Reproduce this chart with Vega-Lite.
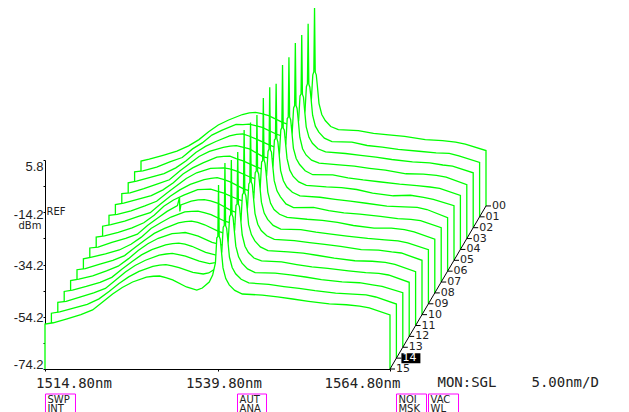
{"$schema":"https://vega.github.io/schema/vega-lite/v6.json","width":345,"height":209,"autosize":{"type":"none"},"padding":{"left":45,"top":160,"right":239,"bottom":43},"background":"white","config":{"view":{"stroke":null}},
"datasets":{
"traces":[
{"t":0,"x":1514.8,"y":-74.2},{"t":0,"x":1514.8,"y":-57},{"t":0,"x":1516,"y":-56.3},{"t":0,"x":1518,"y":-54.8},{"t":0,"x":1520,"y":-53.2},{"t":0,"x":1521.7,"y":-51.2},{"t":0,"x":1523.2,"y":-48.8},{"t":0,"x":1524.6,"y":-45.8},{"t":0,"x":1526,"y":-43.2},{"t":0,"x":1527.5,"y":-41.3},{"t":0,"x":1529.5,"y":-39.2},{"t":0,"x":1530.5,"y":-38.6},{"t":0,"x":1531.4,"y":-38.4},{"t":0,"x":1532.3,"y":-38.9},{"t":0,"x":1533.3,"y":-39.6},{"t":0,"x":1535.3,"y":-42.2},{"t":0,"x":1536.8,"y":-43.6},{"t":0,"x":1537.6,"y":-43},{"t":0,"x":1538.6,"y":-40.6},{"t":0,"x":1539.1,"y":-38},{"t":0,"x":1539.5,"y":-33},{"t":0,"x":1539.7,"y":-24},{"t":0,"x":1539.85,"y":-22.8},{"t":0,"x":1539.95,"y":1.6},{"t":0,"x":1540.05,"y":-23},{"t":0,"x":1540.2,"y":-24},{"t":0,"x":1540.35,"y":-28},{"t":0,"x":1540.6,"y":-35},{"t":0,"x":1541,"y":-39.2},{"t":0,"x":1541.5,"y":-41.5},{"t":0,"x":1542.3,"y":-43.8},{"t":0,"x":1543.4,"y":-45},{"t":0,"x":1546.3,"y":-45.4},{"t":0,"x":1548.5,"y":-46.4},{"t":0,"x":1550.7,"y":-47},{"t":0,"x":1553,"y":-47.6},{"t":0,"x":1556,"y":-48.8},{"t":0,"x":1558.5,"y":-49.2},{"t":0,"x":1560.4,"y":-49.8},{"t":0,"x":1561.8,"y":-50.5},{"t":0,"x":1564.8,"y":-53},{"t":0,"x":1564.8,"y":-74.2},
{"t":1,"x":1514.8,"y":-74.2},{"t":1,"x":1514.8,"y":-57},{"t":1,"x":1516,"y":-56.6},{"t":1,"x":1518,"y":-55.2},{"t":1,"x":1520,"y":-53.1},{"t":1,"x":1521.7,"y":-51.5},{"t":1,"x":1523.2,"y":-48.2},{"t":1,"x":1524.6,"y":-45.9},{"t":1,"x":1526,"y":-42.9},{"t":1,"x":1527.5,"y":-41},{"t":1,"x":1529.5,"y":-38.8},{"t":1,"x":1530.5,"y":-38.9},{"t":1,"x":1531.4,"y":-38.7},{"t":1,"x":1532.3,"y":-39.3},{"t":1,"x":1533.3,"y":-40},{"t":1,"x":1535.3,"y":-42.5},{"t":1,"x":1536.8,"y":-43.9},{"t":1,"x":1537.6,"y":-43.1},{"t":1,"x":1538.6,"y":-40.8},{"t":1,"x":1539.1,"y":-38.3},{"t":1,"x":1539.5,"y":-33.5},{"t":1,"x":1539.7,"y":-24.4},{"t":1,"x":1539.85,"y":-23.2},{"t":1,"x":1539.95,"y":-0.3},{"t":1,"x":1540.05,"y":-23.4},{"t":1,"x":1540.2,"y":-24.6},{"t":1,"x":1540.35,"y":-28.4},{"t":1,"x":1540.6,"y":-35.3},{"t":1,"x":1541,"y":-39.5},{"t":1,"x":1541.5,"y":-41.8},{"t":1,"x":1542.3,"y":-44.1},{"t":1,"x":1543.4,"y":-45.4},{"t":1,"x":1546.3,"y":-45.6},{"t":1,"x":1548.5,"y":-46.9},{"t":1,"x":1550.7,"y":-47.5},{"t":1,"x":1553,"y":-48.4},{"t":1,"x":1556,"y":-49.1},{"t":1,"x":1558.5,"y":-49.7},{"t":1,"x":1560.4,"y":-49.9},{"t":1,"x":1561.8,"y":-50.9},{"t":1,"x":1564.8,"y":-53.4},{"t":1,"x":1564.8,"y":-74.2},
{"t":2,"x":1514.8,"y":-74.2},{"t":2,"x":1514.8,"y":-57},{"t":2,"x":1516,"y":-56.4},{"t":2,"x":1518,"y":-54.9},{"t":2,"x":1520,"y":-53.5},{"t":2,"x":1521.7,"y":-51.3},{"t":2,"x":1523.2,"y":-48.6},{"t":2,"x":1524.6,"y":-45.4},{"t":2,"x":1526,"y":-43.1},{"t":2,"x":1527.5,"y":-41.2},{"t":2,"x":1529.5,"y":-39.1},{"t":2,"x":1530.5,"y":-38.5},{"t":2,"x":1531.4,"y":-38.3},{"t":2,"x":1532.3,"y":-39.1},{"t":2,"x":1533.3,"y":-40.2},{"t":2,"x":1535.3,"y":-42.6},{"t":2,"x":1536.8,"y":-44.1},{"t":2,"x":1537.6,"y":-43.3},{"t":2,"x":1538.6,"y":-41},{"t":2,"x":1539.1,"y":-38.1},{"t":2,"x":1539.5,"y":-33.2},{"t":2,"x":1539.7,"y":-23.8},{"t":2,"x":1539.85,"y":-23.1},{"t":2,"x":1539.95,"y":-0.4},{"t":2,"x":1540.05,"y":-23.2},{"t":2,"x":1540.2,"y":-24.2},{"t":2,"x":1540.35,"y":-28.7},{"t":2,"x":1540.6,"y":-35.6},{"t":2,"x":1541,"y":-39.6},{"t":2,"x":1541.5,"y":-41.9},{"t":2,"x":1542.3,"y":-44},{"t":2,"x":1543.4,"y":-45.2},{"t":2,"x":1546.3,"y":-45.8},{"t":2,"x":1548.5,"y":-46.5},{"t":2,"x":1550.7,"y":-47.2},{"t":2,"x":1553,"y":-48.1},{"t":2,"x":1556,"y":-49},{"t":2,"x":1558.5,"y":-49.4},{"t":2,"x":1560.4,"y":-50.2},{"t":2,"x":1561.8,"y":-50.6},{"t":2,"x":1564.8,"y":-53.2},{"t":2,"x":1564.8,"y":-74.2},
{"t":3,"x":1514.8,"y":-74.2},{"t":3,"x":1514.8,"y":-57},{"t":3,"x":1516,"y":-56.7},{"t":3,"x":1518,"y":-55.1},{"t":3,"x":1520,"y":-53.3},{"t":3,"x":1521.7,"y":-51.7},{"t":3,"x":1523.2,"y":-48.3},{"t":3,"x":1524.6,"y":-45.6},{"t":3,"x":1526,"y":-42.8},{"t":3,"x":1527.5,"y":-40.8},{"t":3,"x":1529.5,"y":-39.3},{"t":3,"x":1530.5,"y":-38.8},{"t":3,"x":1531.4,"y":-38.6},{"t":3,"x":1532.3,"y":-39.2},{"t":3,"x":1533.3,"y":-39.9},{"t":3,"x":1535.3,"y":-42.9},{"t":3,"x":1536.8,"y":-43.8},{"t":3,"x":1537.6,"y":-43},{"t":3,"x":1538.6,"y":-40.7},{"t":3,"x":1539.1,"y":-38.4},{"t":3,"x":1539.5,"y":-33.4},{"t":3,"x":1539.7,"y":-24.2},{"t":3,"x":1539.85,"y":-23.3},{"t":3,"x":1539.95,"y":0.7},{"t":3,"x":1540.05,"y":-23.3},{"t":3,"x":1540.2,"y":-24.4},{"t":3,"x":1540.35,"y":-28.2},{"t":3,"x":1540.6,"y":-35.4},{"t":3,"x":1541,"y":-39.8},{"t":3,"x":1541.5,"y":-42.2},{"t":3,"x":1542.3,"y":-44.2},{"t":3,"x":1543.4,"y":-45.3},{"t":3,"x":1546.3,"y":-46},{"t":3,"x":1548.5,"y":-46.5},{"t":3,"x":1550.7,"y":-47.3},{"t":3,"x":1553,"y":-48},{"t":3,"x":1556,"y":-49.4},{"t":3,"x":1558.5,"y":-49.5},{"t":3,"x":1560.4,"y":-50},{"t":3,"x":1561.8,"y":-50.7},{"t":3,"x":1564.8,"y":-53.6},{"t":3,"x":1564.8,"y":-74.2},
{"t":4,"x":1514.8,"y":-74.2},{"t":4,"x":1514.8,"y":-57},{"t":4,"x":1516,"y":-56.5},{"t":4,"x":1518,"y":-55},{"t":4,"x":1520,"y":-53.6},{"t":4,"x":1521.7,"y":-51.4},{"t":4,"x":1523.2,"y":-48.7},{"t":4,"x":1524.6,"y":-45.3},{"t":4,"x":1526,"y":-43},{"t":4,"x":1527.5,"y":-41.1},{"t":4,"x":1529.5,"y":-38.9},{"t":4,"x":1530.5,"y":-38.6},{"t":4,"x":1531.4,"y":-38.5},{"t":4,"x":1532.3,"y":-39.4},{"t":4,"x":1533.3,"y":-40.3},{"t":4,"x":1535.3,"y":-42.7},{"t":4,"x":1536.8,"y":-44.2},{"t":4,"x":1537.6,"y":-43.2},{"t":4,"x":1538.6,"y":-40.9},{"t":4,"x":1539.1,"y":-38.2},{"t":4,"x":1539.5,"y":-33.7},{"t":4,"x":1539.7,"y":-24.1},{"t":4,"x":1539.85,"y":-23.6},{"t":4,"x":1539.95,"y":-0.6},{"t":4,"x":1540.05,"y":-23.5},{"t":4,"x":1540.2,"y":-24.5},{"t":4,"x":1540.35,"y":-28.6},{"t":4,"x":1540.6,"y":-35.5},{"t":4,"x":1541,"y":-39.4},{"t":4,"x":1541.5,"y":-41.7},{"t":4,"x":1542.3,"y":-44.1},{"t":4,"x":1543.4,"y":-45.6},{"t":4,"x":1546.3,"y":-45.7},{"t":4,"x":1548.5,"y":-46.8},{"t":4,"x":1550.7,"y":-47.6},{"t":4,"x":1553,"y":-48.3},{"t":4,"x":1556,"y":-49.2},{"t":4,"x":1558.5,"y":-49.8},{"t":4,"x":1560.4,"y":-50.3},{"t":4,"x":1561.8,"y":-50.8},{"t":4,"x":1564.8,"y":-53.5},{"t":4,"x":1564.8,"y":-74.2},
{"t":5,"x":1514.8,"y":-74.2},{"t":5,"x":1514.8,"y":-57},{"t":5,"x":1516,"y":-56.6},{"t":5,"x":1518,"y":-55.3},{"t":5,"x":1520,"y":-53.4},{"t":5,"x":1521.7,"y":-51.6},{"t":5,"x":1523.2,"y":-48.4},{"t":5,"x":1524.6,"y":-45.7},{"t":5,"x":1526,"y":-42.9},{"t":5,"x":1527.5,"y":-40.7},{"t":5,"x":1529.5,"y":-39},{"t":5,"x":1530.5,"y":-38.9},{"t":5,"x":1531.4,"y":-38.8},{"t":5,"x":1532.3,"y":-39.2},{"t":5,"x":1533.3,"y":-40.1},{"t":5,"x":1535.3,"y":-42.4},{"t":5,"x":1536.8,"y":-43.7},{"t":5,"x":1537.6,"y":-43.1},{"t":5,"x":1538.6,"y":-41},{"t":5,"x":1539.1,"y":-38},{"t":5,"x":1539.5,"y":-33.3},{"t":5,"x":1539.7,"y":-24.3},{"t":5,"x":1539.85,"y":-23.4},{"t":5,"x":1539.95,"y":0.6},{"t":5,"x":1540.05,"y":-23.6},{"t":5,"x":1540.2,"y":-24.3},{"t":5,"x":1540.35,"y":-28.3},{"t":5,"x":1540.6,"y":-35.2},{"t":5,"x":1541,"y":-39.7},{"t":5,"x":1541.5,"y":-42.1},{"t":5,"x":1542.3,"y":-44.2},{"t":5,"x":1543.4,"y":-45.5},{"t":5,"x":1546.3,"y":-46.1},{"t":5,"x":1548.5,"y":-46.4},{"t":5,"x":1550.7,"y":-47.1},{"t":5,"x":1553,"y":-48.5},{"t":5,"x":1556,"y":-49.5},{"t":5,"x":1558.5,"y":-49.3},{"t":5,"x":1560.4,"y":-50.1},{"t":5,"x":1561.8,"y":-50.9},{"t":5,"x":1564.8,"y":-53.3},{"t":5,"x":1564.8,"y":-74.2},
{"t":6,"x":1514.8,"y":-74.2},{"t":6,"x":1514.8,"y":-57},{"t":6,"x":1516,"y":-56.4},{"t":6,"x":1518,"y":-55},{"t":6,"x":1520,"y":-53.2},{"t":6,"x":1521.7,"y":-51.8},{"t":6,"x":1523.2,"y":-48.5},{"t":6,"x":1524.6,"y":-45.5},{"t":6,"x":1526,"y":-43.1},{"t":6,"x":1527.5,"y":-41},{"t":6,"x":1529.5,"y":-39.2},{"t":6,"x":1530.5,"y":-38.7},{"t":6,"x":1531.4,"y":-38.4},{"t":6,"x":1532.3,"y":-39.1},{"t":6,"x":1533.3,"y":-40},{"t":6,"x":1535.3,"y":-42.8},{"t":6,"x":1536.8,"y":-44},{"t":6,"x":1537.6,"y":-43.4},{"t":6,"x":1538.6,"y":-40.8},{"t":6,"x":1539.1,"y":-38.3},{"t":6,"x":1539.5,"y":-33.6},{"t":6,"x":1539.7,"y":-24},{"t":6,"x":1539.85,"y":-23.5},{"t":6,"x":1539.95,"y":-2.5},{"t":6,"x":1540.05,"y":-23.4},{"t":6,"x":1540.2,"y":-24.7},{"t":6,"x":1540.35,"y":-28.5},{"t":6,"x":1540.6,"y":-35.7},{"t":6,"x":1541,"y":-39.6},{"t":6,"x":1541.5,"y":-42},{"t":6,"x":1542.3,"y":-44},{"t":6,"x":1543.4,"y":-45.4},{"t":6,"x":1546.3,"y":-45.9},{"t":6,"x":1548.5,"y":-46.7},{"t":6,"x":1550.7,"y":-47.4},{"t":6,"x":1553,"y":-48.2},{"t":6,"x":1556,"y":-49.3},{"t":6,"x":1558.5,"y":-49.6},{"t":6,"x":1560.4,"y":-49.8},{"t":6,"x":1561.8,"y":-50.6},{"t":6,"x":1564.8,"y":-53.7},{"t":6,"x":1564.8,"y":-74.2},
{"t":7,"x":1514.8,"y":-74.2},{"t":7,"x":1514.8,"y":-57},{"t":7,"x":1516,"y":-56.5},{"t":7,"x":1518,"y":-55.2},{"t":7,"x":1520,"y":-53.5},{"t":7,"x":1521.7,"y":-51.5},{"t":7,"x":1523.2,"y":-48.6},{"t":7,"x":1524.6,"y":-45.2},{"t":7,"x":1526,"y":-42.8},{"t":7,"x":1527.5,"y":-40.9},{"t":7,"x":1529.5,"y":-38.8},{"t":7,"x":1530.5,"y":-38.7},{"t":7,"x":1531.4,"y":-38.6},{"t":7,"x":1532.3,"y":-39.4},{"t":7,"x":1533.3,"y":-40.2},{"t":7,"x":1535.3,"y":-42.5},{"t":7,"x":1536.8,"y":-43.9},{"t":7,"x":1537.6,"y":-43},{"t":7,"x":1538.6,"y":-40.9},{"t":7,"x":1539.1,"y":-38.1},{"t":7,"x":1539.5,"y":-33.4},{"t":7,"x":1539.7,"y":-24.2},{"t":7,"x":1539.85,"y":-23.3},{"t":7,"x":1539.95,"y":0.4},{"t":7,"x":1540.05,"y":-23.7},{"t":7,"x":1540.2,"y":-24.4},{"t":7,"x":1540.35,"y":-28.8},{"t":7,"x":1540.6,"y":-35.4},{"t":7,"x":1541,"y":-39.3},{"t":7,"x":1541.5,"y":-41.6},{"t":7,"x":1542.3,"y":-44.3},{"t":7,"x":1543.4,"y":-45.7},{"t":7,"x":1546.3,"y":-45.6},{"t":7,"x":1548.5,"y":-46.9},{"t":7,"x":1550.7,"y":-47.7},{"t":7,"x":1553,"y":-48.2},{"t":7,"x":1556,"y":-49.1},{"t":7,"x":1558.5,"y":-49.9},{"t":7,"x":1560.4,"y":-50.2},{"t":7,"x":1561.8,"y":-50.7},{"t":7,"x":1564.8,"y":-53.4},{"t":7,"x":1564.8,"y":-74.2},
{"t":8,"x":1514.8,"y":-74.2},{"t":8,"x":1514.8,"y":-57},{"t":8,"x":1516,"y":-56.7},{"t":8,"x":1518,"y":-54.9},{"t":8,"x":1520,"y":-53.3},{"t":8,"x":1521.7,"y":-51.7},{"t":8,"x":1523.2,"y":-48.3},{"t":8,"x":1524.6,"y":-45.6},{"t":8,"x":1526,"y":-43},{"t":8,"x":1527.5,"y":-40.8},{"t":8,"x":1527.8,"y":-37.6},{"t":8,"x":1527.85,"y":-43},{"t":8,"x":1528,"y":-40.5},{"t":8,"x":1529.5,"y":-39.1},{"t":8,"x":1530.5,"y":-38.6},{"t":8,"x":1531.4,"y":-38.5},{"t":8,"x":1532.3,"y":-39},{"t":8,"x":1533.3,"y":-39.8},{"t":8,"x":1535.3,"y":-42.7},{"t":8,"x":1536.8,"y":-44.1},{"t":8,"x":1537.6,"y":-43.2},{"t":8,"x":1538.6,"y":-40.7},{"t":8,"x":1539.1,"y":-38.2},{"t":8,"x":1539.5,"y":-33.8},{"t":8,"x":1539.7,"y":-24.1},{"t":8,"x":1539.85,"y":-23.6},{"t":8,"x":1539.95,"y":0.4},{"t":8,"x":1540.05,"y":-23.3},{"t":8,"x":1540.2,"y":-24.6},{"t":8,"x":1540.35,"y":-28.4},{"t":8,"x":1540.6,"y":-35.6},{"t":8,"x":1541,"y":-39.9},{"t":8,"x":1541.5,"y":-42.3},{"t":8,"x":1542.3,"y":-44.1},{"t":8,"x":1543.4,"y":-45.3},{"t":8,"x":1546.3,"y":-46},{"t":8,"x":1548.5,"y":-46.4},{"t":8,"x":1550.7,"y":-47.2},{"t":8,"x":1553,"y":-48.4},{"t":8,"x":1556,"y":-49.4},{"t":8,"x":1558.5,"y":-49.4},{"t":8,"x":1560.4,"y":-50},{"t":8,"x":1561.8,"y":-50.8},{"t":8,"x":1564.8,"y":-53.6},{"t":8,"x":1564.8,"y":-74.2},
{"t":9,"x":1514.8,"y":-74.2},{"t":9,"x":1514.8,"y":-57},{"t":9,"x":1516,"y":-56.3},{"t":9,"x":1518,"y":-55.1},{"t":9,"x":1520,"y":-53.6},{"t":9,"x":1521.7,"y":-51.4},{"t":9,"x":1523.2,"y":-48.7},{"t":9,"x":1524.6,"y":-45.4},{"t":9,"x":1526,"y":-43.2},{"t":9,"x":1527.5,"y":-41},{"t":9,"x":1529.5,"y":-39},{"t":9,"x":1530.5,"y":-38.8},{"t":9,"x":1531.4,"y":-38.7},{"t":9,"x":1532.3,"y":-39.3},{"t":9,"x":1533.3,"y":-40.1},{"t":9,"x":1535.3,"y":-42.6},{"t":9,"x":1536.8,"y":-43.8},{"t":9,"x":1537.6,"y":-43.1},{"t":9,"x":1538.6,"y":-40.8},{"t":9,"x":1539.1,"y":-38},{"t":9,"x":1539.5,"y":-33.5},{"t":9,"x":1539.7,"y":-24},{"t":9,"x":1539.85,"y":-23.4},{"t":9,"x":1539.95,"y":-1.9},{"t":9,"x":1540.05,"y":-23.5},{"t":9,"x":1540.2,"y":-24.5},{"t":9,"x":1540.35,"y":-28.6},{"t":9,"x":1540.6,"y":-35.3},{"t":9,"x":1541,"y":-39.5},{"t":9,"x":1541.5,"y":-41.9},{"t":9,"x":1542.3,"y":-44.2},{"t":9,"x":1543.4,"y":-45.6},{"t":9,"x":1546.3,"y":-45.8},{"t":9,"x":1548.5,"y":-46.8},{"t":9,"x":1550.7,"y":-47.5},{"t":9,"x":1553,"y":-48.3},{"t":9,"x":1556,"y":-49.2},{"t":9,"x":1558.5,"y":-49.7},{"t":9,"x":1560.4,"y":-50.1},{"t":9,"x":1561.8,"y":-50.9},{"t":9,"x":1564.8,"y":-53.5},{"t":9,"x":1564.8,"y":-74.2},
{"t":10,"x":1514.8,"y":-74.2},{"t":10,"x":1514.8,"y":-57},{"t":10,"x":1516,"y":-56.6},{"t":10,"x":1518,"y":-55},{"t":10,"x":1520,"y":-53.4},{"t":10,"x":1521.7,"y":-51.6},{"t":10,"x":1523.2,"y":-48.5},{"t":10,"x":1524.6,"y":-45.7},{"t":10,"x":1526,"y":-43.1},{"t":10,"x":1527.5,"y":-41.2},{"t":10,"x":1529.5,"y":-39.1},{"t":10,"x":1530.5,"y":-38.6},{"t":10,"x":1531.4,"y":-38.4},{"t":10,"x":1532.3,"y":-38.9},{"t":10,"x":1533.3,"y":-39.8},{"t":10,"x":1535.3,"y":-42.3},{"t":10,"x":1536.8,"y":-43.6},{"t":10,"x":1537.6,"y":-42.9},{"t":10,"x":1538.6,"y":-40.7},{"t":10,"x":1539.1,"y":-38.2},{"t":10,"x":1539.5,"y":-33.4},{"t":10,"x":1539.7,"y":-24.2},{"t":10,"x":1539.85,"y":-23.5},{"t":10,"x":1539.95,"y":-0.7},{"t":10,"x":1540.05,"y":-23.4},{"t":10,"x":1540.2,"y":-24.4},{"t":10,"x":1540.35,"y":-28.7},{"t":10,"x":1540.6,"y":-35.5},{"t":10,"x":1541,"y":-39.6},{"t":10,"x":1541.5,"y":-42},{"t":10,"x":1542.3,"y":-44},{"t":10,"x":1543.4,"y":-45.4},{"t":10,"x":1546.3,"y":-45.9},{"t":10,"x":1548.5,"y":-46.6},{"t":10,"x":1550.7,"y":-47.3},{"t":10,"x":1553,"y":-48.1},{"t":10,"x":1556,"y":-49.3},{"t":10,"x":1558.5,"y":-49.5},{"t":10,"x":1560.4,"y":-50.2},{"t":10,"x":1561.8,"y":-50.6},{"t":10,"x":1564.8,"y":-53.4},{"t":10,"x":1564.8,"y":-74.2},
{"t":11,"x":1514.8,"y":-74.2},{"t":11,"x":1514.8,"y":-57},{"t":11,"x":1516,"y":-56.4},{"t":11,"x":1518,"y":-55.2},{"t":11,"x":1520,"y":-53.3},{"t":11,"x":1521.7,"y":-51.5},{"t":11,"x":1523.2,"y":-48.6},{"t":11,"x":1524.6,"y":-45.5},{"t":11,"x":1526,"y":-42.9},{"t":11,"x":1527.5,"y":-40.8},{"t":11,"x":1529.5,"y":-39},{"t":11,"x":1530.5,"y":-38.8},{"t":11,"x":1531.4,"y":-38.6},{"t":11,"x":1532.3,"y":-39.2},{"t":11,"x":1533.3,"y":-40},{"t":11,"x":1535.3,"y":-42.4},{"t":11,"x":1536.8,"y":-43.4},{"t":11,"x":1537.6,"y":-42.6},{"t":11,"x":1538.6,"y":-40.6},{"t":11,"x":1539.1,"y":-38.1},{"t":11,"x":1539.5,"y":-33.6},{"t":11,"x":1539.7,"y":-24.1},{"t":11,"x":1539.85,"y":-23.5},{"t":11,"x":1539.95,"y":0.6},{"t":11,"x":1540.05,"y":-23.5},{"t":11,"x":1540.2,"y":-24.5},{"t":11,"x":1540.35,"y":-28.5},{"t":11,"x":1540.6,"y":-35.6},{"t":11,"x":1541,"y":-39.4},{"t":11,"x":1541.5,"y":-41.8},{"t":11,"x":1542.3,"y":-44.1},{"t":11,"x":1543.4,"y":-45.5},{"t":11,"x":1546.3,"y":-46},{"t":11,"x":1548.5,"y":-46.5},{"t":11,"x":1550.7,"y":-47.4},{"t":11,"x":1553,"y":-48.4},{"t":11,"x":1556,"y":-49.4},{"t":11,"x":1558.5,"y":-49.6},{"t":11,"x":1560.4,"y":-50},{"t":11,"x":1561.8,"y":-50.8},{"t":11,"x":1564.8,"y":-53.6},{"t":11,"x":1564.8,"y":-74.2},
{"t":12,"x":1514.8,"y":-74.2},{"t":12,"x":1514.8,"y":-57},{"t":12,"x":1516,"y":-56.5},{"t":12,"x":1518,"y":-55.1},{"t":12,"x":1520,"y":-53.5},{"t":12,"x":1521.7,"y":-51.6},{"t":12,"x":1523.2,"y":-48.4},{"t":12,"x":1524.6,"y":-45.6},{"t":12,"x":1526,"y":-43},{"t":12,"x":1527.5,"y":-41},{"t":12,"x":1529.5,"y":-39.2},{"t":12,"x":1530.5,"y":-38.7},{"t":12,"x":1531.4,"y":-38.5},{"t":12,"x":1532.3,"y":-38.9},{"t":12,"x":1533.3,"y":-39.7},{"t":12,"x":1535.3,"y":-42},{"t":12,"x":1536.8,"y":-43.1},{"t":12,"x":1537.6,"y":-42.4},{"t":12,"x":1538.6,"y":-40.4},{"t":12,"x":1539.1,"y":-38},{"t":12,"x":1539.5,"y":-33.5},{"t":12,"x":1539.7,"y":-24},{"t":12,"x":1539.85,"y":-23.6},{"t":12,"x":1539.95,"y":-3.6},{"t":12,"x":1540.05,"y":-23.6},{"t":12,"x":1540.2,"y":-24.6},{"t":12,"x":1540.35,"y":-28.6},{"t":12,"x":1540.6,"y":-35.4},{"t":12,"x":1541,"y":-39.7},{"t":12,"x":1541.5,"y":-42.1},{"t":12,"x":1542.3,"y":-44.2},{"t":12,"x":1543.4,"y":-45.3},{"t":12,"x":1546.3,"y":-45.7},{"t":12,"x":1548.5,"y":-46.7},{"t":12,"x":1550.7,"y":-47.6},{"t":12,"x":1553,"y":-48.2},{"t":12,"x":1556,"y":-49.1},{"t":12,"x":1558.5,"y":-49.8},{"t":12,"x":1560.4,"y":-50.1},{"t":12,"x":1561.8,"y":-50.7},{"t":12,"x":1564.8,"y":-53.5},{"t":12,"x":1564.8,"y":-74.2},
{"t":13,"x":1514.8,"y":-74.2},{"t":13,"x":1514.8,"y":-57},{"t":13,"x":1516,"y":-56.6},{"t":13,"x":1518,"y":-55},{"t":13,"x":1520,"y":-53.4},{"t":13,"x":1521.7,"y":-51.7},{"t":13,"x":1523.2,"y":-48.5},{"t":13,"x":1524.6,"y":-45.4},{"t":13,"x":1526,"y":-42.9},{"t":13,"x":1527.5,"y":-40.9},{"t":13,"x":1529.5,"y":-38.9},{"t":13,"x":1530.5,"y":-38.5},{"t":13,"x":1531.4,"y":-38.3},{"t":13,"x":1532.3,"y":-38.7},{"t":13,"x":1533.3,"y":-39.3},{"t":13,"x":1535.3,"y":-41.2},{"t":13,"x":1536.8,"y":-42.2},{"t":13,"x":1537.6,"y":-41.8},{"t":13,"x":1538.6,"y":-40},{"t":13,"x":1539.1,"y":-37.8},{"t":13,"x":1539.5,"y":-33.4},{"t":13,"x":1539.7,"y":-24.2},{"t":13,"x":1539.85,"y":-23.4},{"t":13,"x":1539.95,"y":-2.5},{"t":13,"x":1540.05,"y":-23.4},{"t":13,"x":1540.2,"y":-24.4},{"t":13,"x":1540.35,"y":-28.7},{"t":13,"x":1540.6,"y":-35.5},{"t":13,"x":1541,"y":-39.6},{"t":13,"x":1541.5,"y":-42},{"t":13,"x":1542.3,"y":-44.2},{"t":13,"x":1543.4,"y":-45.6},{"t":13,"x":1546.3,"y":-45.8},{"t":13,"x":1548.5,"y":-46.5},{"t":13,"x":1550.7,"y":-47.3},{"t":13,"x":1553,"y":-48.3},{"t":13,"x":1556,"y":-49.2},{"t":13,"x":1558.5,"y":-49.5},{"t":13,"x":1560.4,"y":-50.3},{"t":13,"x":1561.8,"y":-50.9},{"t":13,"x":1564.8,"y":-53.3},{"t":13,"x":1564.8,"y":-74.2},
{"t":14,"x":1514.8,"y":-74.2},{"t":14,"x":1514.8,"y":-57},{"t":14,"x":1516,"y":-56.5},{"t":14,"x":1518,"y":-55.1},{"t":14,"x":1520,"y":-53.6},{"t":14,"x":1521.7,"y":-51.5},{"t":14,"x":1523.2,"y":-48.6},{"t":14,"x":1524.6,"y":-45.6},{"t":14,"x":1526,"y":-43.1},{"t":14,"x":1527.5,"y":-41},{"t":14,"x":1529.5,"y":-39.1},{"t":14,"x":1530.5,"y":-38.6},{"t":14,"x":1531.4,"y":-38.4},{"t":14,"x":1532.3,"y":-38.9},{"t":14,"x":1533.3,"y":-39.6},{"t":14,"x":1535.3,"y":-41.4},{"t":14,"x":1536.8,"y":-42},{"t":14,"x":1537.6,"y":-41.6},{"t":14,"x":1538.6,"y":-39.9},{"t":14,"x":1539.1,"y":-37.6},{"t":14,"x":1539.5,"y":-33.3},{"t":14,"x":1539.7,"y":-24.1},{"t":14,"x":1539.85,"y":-23.5},{"t":14,"x":1539.95,"y":0.5},{"t":14,"x":1540.05,"y":-23.5},{"t":14,"x":1540.2,"y":-24.5},{"t":14,"x":1540.35,"y":-28.6},{"t":14,"x":1540.6,"y":-35.5},{"t":14,"x":1541,"y":-39.5},{"t":14,"x":1541.5,"y":-41.9},{"t":14,"x":1542.3,"y":-44},{"t":14,"x":1543.4,"y":-45.4},{"t":14,"x":1546.3,"y":-46},{"t":14,"x":1548.5,"y":-46.8},{"t":14,"x":1550.7,"y":-47.5},{"t":14,"x":1553,"y":-48.4},{"t":14,"x":1556,"y":-49.3},{"t":14,"x":1558.5,"y":-49.7},{"t":14,"x":1560.4,"y":-50},{"t":14,"x":1561.8,"y":-50.8},{"t":14,"x":1564.8,"y":-53.5},{"t":14,"x":1564.8,"y":-74.2},
{"t":15,"x":1514.8,"y":-74.2},{"t":15,"x":1514.8,"y":-57},{"t":15,"x":1516,"y":-56.5},{"t":15,"x":1518,"y":-55},{"t":15,"x":1520,"y":-53.4},{"t":15,"x":1521.7,"y":-51.6},{"t":15,"x":1523.2,"y":-48.5},{"t":15,"x":1524.6,"y":-45.5},{"t":15,"x":1526,"y":-43},{"t":15,"x":1527.5,"y":-40.9},{"t":15,"x":1529.5,"y":-39},{"t":15,"x":1530.5,"y":-38.7},{"t":15,"x":1531.4,"y":-38.6},{"t":15,"x":1532.3,"y":-39.2},{"t":15,"x":1533.3,"y":-40.1},{"t":15,"x":1535.3,"y":-42.8},{"t":15,"x":1536.8,"y":-44},{"t":15,"x":1537.6,"y":-43.2},{"t":15,"x":1538.6,"y":-40.9},{"t":15,"x":1539.1,"y":-38.2},{"t":15,"x":1539.5,"y":-33.6},{"t":15,"x":1539.7,"y":-24},{"t":15,"x":1539.85,"y":-23.5},{"t":15,"x":1539.95,"y":-3.8},{"t":15,"x":1540.05,"y":-23.5},{"t":15,"x":1540.2,"y":-24.5},{"t":15,"x":1540.35,"y":-28.6},{"t":15,"x":1540.6,"y":-35.5},{"t":15,"x":1541,"y":-39.6},{"t":15,"x":1541.5,"y":-42},{"t":15,"x":1542.3,"y":-44.1},{"t":15,"x":1543.4,"y":-45.5},{"t":15,"x":1546.3,"y":-45.9},{"t":15,"x":1548.5,"y":-46.6},{"t":15,"x":1550.7,"y":-47.4},{"t":15,"x":1553,"y":-48.3},{"t":15,"x":1556,"y":-49.3},{"t":15,"x":1558.5,"y":-49.6},{"t":15,"x":1560.4,"y":-50.1},{"t":15,"x":1561.8,"y":-50.8},{"t":15,"x":1564.8,"y":-53.5},{"t":15,"x":1564.8,"y":-74.2}
],
"depth":[{"t":0,"x":1564.8,"y":-74.2,"label":"00"},{"t":1,"x":1564.8,"y":-74.2,"label":"01"},{"t":2,"x":1564.8,"y":-74.2,"label":"02"},{"t":3,"x":1564.8,"y":-74.2,"label":"03"},{"t":4,"x":1564.8,"y":-74.2,"label":"04"},{"t":5,"x":1564.8,"y":-74.2,"label":"05"},{"t":6,"x":1564.8,"y":-74.2,"label":"06"},{"t":7,"x":1564.8,"y":-74.2,"label":"07"},{"t":8,"x":1564.8,"y":-74.2,"label":"08"},{"t":9,"x":1564.8,"y":-74.2,"label":"09"},{"t":10,"x":1564.8,"y":-74.2,"label":"10"},{"t":11,"x":1564.8,"y":-74.2,"label":"11"},{"t":12,"x":1564.8,"y":-74.2,"label":"12"},{"t":13,"x":1564.8,"y":-74.2,"label":"13"},{"t":14,"x":1564.8,"y":-74.2,"label":"14"},{"t":15,"x":1564.8,"y":-74.2,"label":"15"}],
"keys":[{"x":1514.87,"x2":1519.22,"y":-83.77,"y2":-92},{"x":1542.7,"x2":1546.9,"y":-83.77,"y2":-92},{"x":1565.74,"x2":1570.09,"y":-83.77,"y2":-92},{"x":1570.38,"x2":1574.73,"y":-83.77,"y2":-92}],
"small":[{"x":1515.02,"y":-14.1,"label":"REF"},{"x":1510.96,"y":-19.5,"label":"dBm"},{"x":1515.15,"y":-86.07,"label":"SWP"},{"x":1515.15,"y":-89.51,"label":"INT"},{"x":1543,"y":-86.07,"label":"AUT"},{"x":1543,"y":-89.51,"label":"ANA"},{"x":1566.03,"y":-86.07,"label":"NOI"},{"x":1566.03,"y":-89.51,"label":"MSK"},{"x":1570.67,"y":-86.07,"label":"VAC"},{"x":1570.67,"y":-89.51,"label":"WL"}],
"large":[{"x":1571.68,"y":-79.56,"label":"MON:SGL"},{"x":1585.3,"y":-79.56,"label":"5.00nm/D"}]
},
"encoding":{
"x":{"field":"x","type":"quantitative","scale":{"domain":[1514.8,1564.8],"nice":false,"zero":false},"axis":{"title":null,"values":[1514.8,1539.8,1564.8],"grid":false,"domainColor":"black","tickColor":"black","tickSize":2,"labelColor":"#222","labelFont":"DejaVu Sans Mono","labelFontSize":14,"labelAlign":"left","labelBaseline":"middle","labelPadding":12,"labelBound":false,"labelFlush":false,"labelOverlap":false,"labelExpr":"format(datum.value,'.2f')+'nm'","encoding":{"labels":{"dx":{"value":{"expr":"datum.value<1530?-9.5:(datum.value<1550?-32:-66)"}}}}}},
"y":{"field":"y","type":"quantitative","scale":{"domain":[-74.2,5.8],"nice":false,"zero":false},"axis":{"title":null,"values":[-74.2,-64.2,-54.2,-44.2,-34.2,-24.2,-14.2,-4.2,5.8],"grid":false,"domainColor":"black","tickColor":"black","tickSize":2,"labelColor":"#222","labelFont":"Liberation Sans","labelFontSize":13,"labelPadding":0,"labelBound":false,"labelOverlap":false,"labelExpr":"round(datum.value+74.2)%20==0?(datum.value<0?'-':'')+format(abs(datum.value),'.1f'):''","encoding":{"labels":{"dy":{"value":{"expr":"datum.value>0?6:(datum.value<-70?-5:(datum.value>-20?2:1))"}}}}}}
},
"layer":[
{"data":{"name":"traces"},"mark":{"type":"line","stroke":"#00ff00","fill":"white","strokeWidth":1.3,"clip":false,"xOffset":{"expr":"(15-datum.t)*6.4"},"yOffset":{"expr":"(datum.t-15)*10.87"}},"encoding":{"detail":{"field":"t","type":"nominal"},"order":null}},
{"data":{"name":"depth"},"mark":{"type":"line","stroke":"black","strokeWidth":1,"xOffset":{"expr":"(15-datum.t)*6.4"},"yOffset":{"expr":"(datum.t-15)*10.87"}},"encoding":{"order":null}},
{"data":{"name":"depth"},"mark":{"type":"point","shape":"M0,0H1","size":100,"stroke":"black","strokeWidth":1,"opacity":1,"filled":false,"xOffset":{"expr":"(15-datum.t)*6.4"},"yOffset":{"expr":"(datum.t-15)*10.87"}}},
{"data":{"name":"depth"},"transform":[{"filter":"datum.t==14"}],"mark":{"type":"point","shape":"M6,-4H23V4H6Z","size":4,"fill":"black","stroke":"black","filled":true,"opacity":1,"xOffset":{"expr":"(15-datum.t)*6.4"},"yOffset":{"expr":"(datum.t-15)*10.87"}}},
{"data":{"name":"depth"},"mark":{"type":"text","align":"left","baseline":"middle","dx":6,"font":"DejaVu Sans","fontSize":11,"xOffset":{"expr":"(15-datum.t)*6.4"},"yOffset":{"expr":"(datum.t-15)*10.87"}},"encoding":{"text":{"field":"label","type":"nominal"},"color":{"condition":{"test":"datum.t==14","value":"white"},"value":"#222"}}},
{"data":{"name":"keys"},"mark":{"type":"rect","fill":"white","stroke":"#ff00ff","strokeWidth":1,"clip":false},"encoding":{"x2":{"field":"x2"},"y2":{"field":"y2"}}},
{"data":{"name":"small"},"mark":{"type":"text","align":"left","baseline":"middle","font":"DejaVu Sans","fontSize":10,"color":"#222"},"encoding":{"text":{"field":"label","type":"nominal"}}},
{"data":{"name":"large"},"mark":{"type":"text","align":"left","baseline":"middle","font":"DejaVu Sans Mono","fontSize":14,"color":"#222"},"encoding":{"text":{"field":"label","type":"nominal"}}}
]}
